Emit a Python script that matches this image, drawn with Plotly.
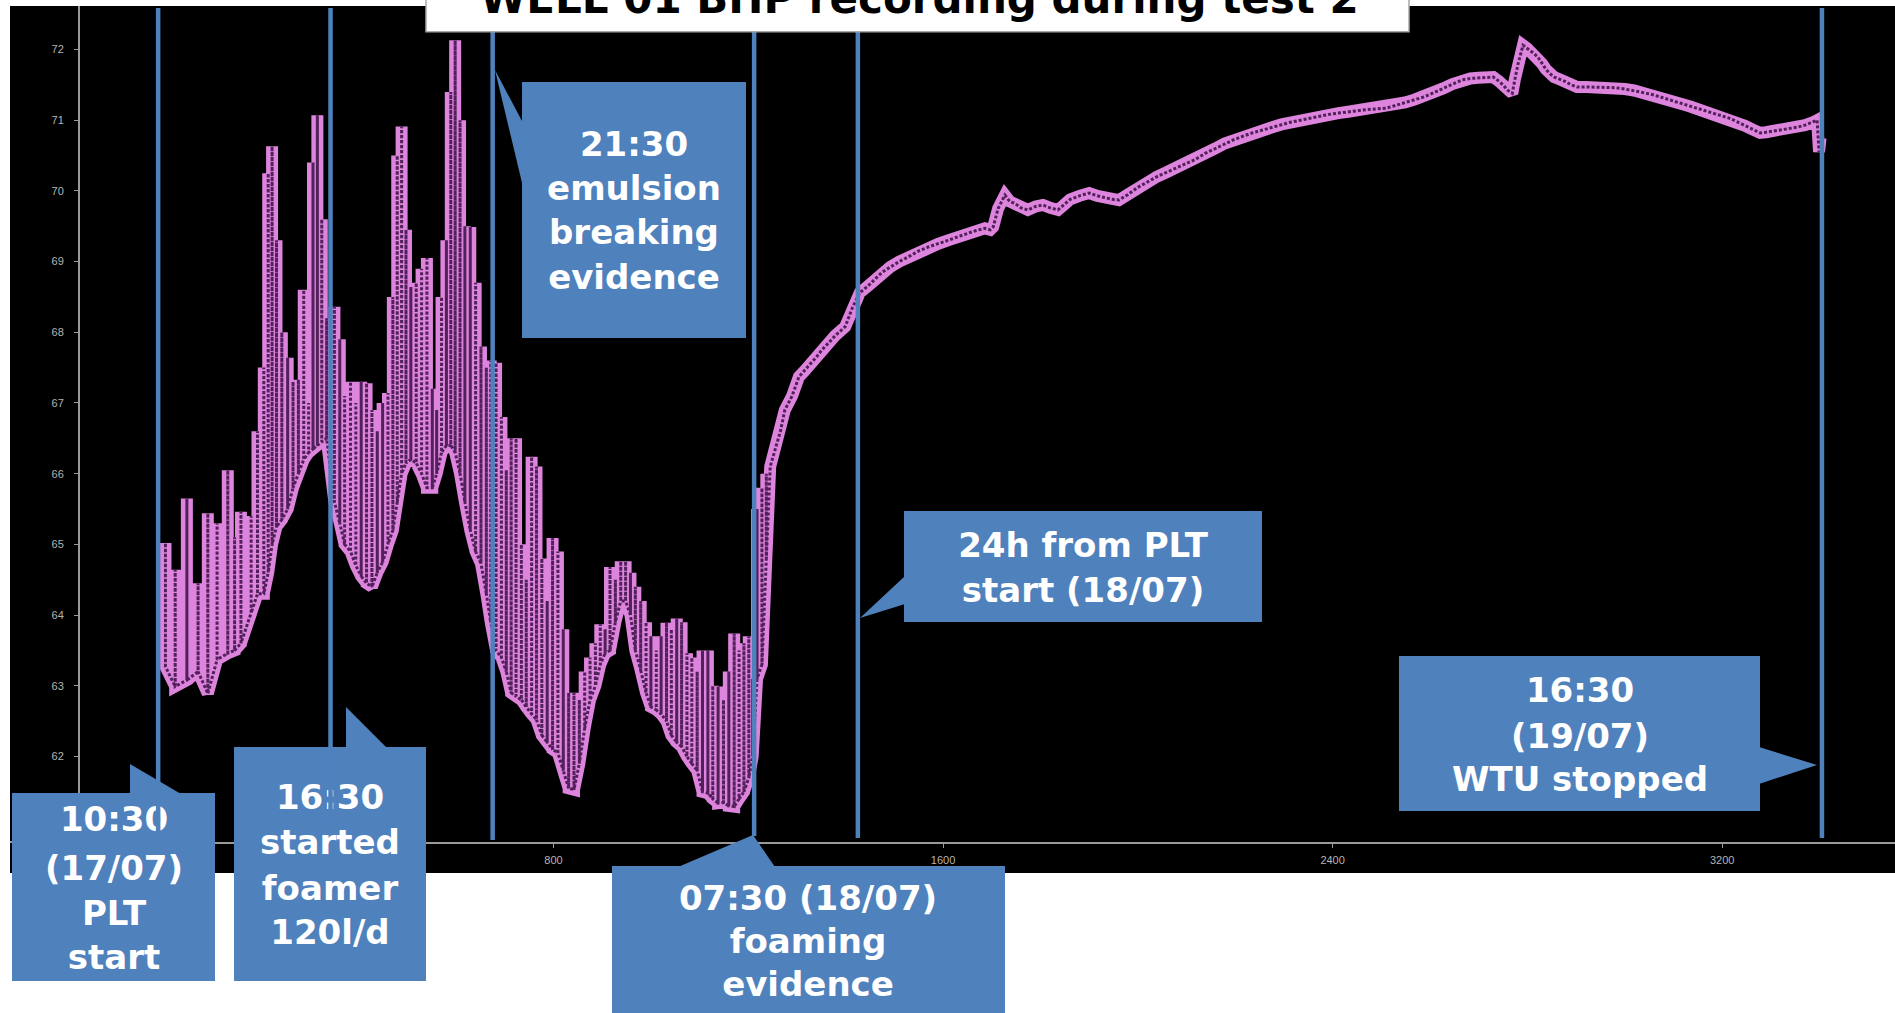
import plotly.graph_objects as go

# ---------------- data ----------------
# Oscillating part of the record: each column = time (min), column top and bottom (bar)
col_time = [3, 23, 47, 70, 90, 109, 131, 145, 158, 179, 192, 205, 214, 222, 231, 242, 254, 265, 276, 287,
            297, 306, 315, 324, 334, 350, 361, 371, 383, 394, 405, 416, 427, 438, 449, 460, 470, 479, 488, 497,
            507, 518, 529, 540, 551, 560, 570, 580, 589, 598, 608, 618, 629, 640, 651, 662, 671, 682, 693, 703,
            713, 723, 734, 744, 755, 765, 776, 787, 798, 809, 820, 831, 842, 853, 864, 875, 886, 896, 906, 916,
            927, 938, 948, 958, 968, 979, 990, 1000, 1011, 1021, 1032, 1042, 1053, 1063, 1074, 1084, 1095, 1106,
            1117, 1127, 1138, 1149, 1160, 1171, 1181, 1191, 1201, 1209, 1218, 1228, 1237]
col_top = [65.02, 64.64, 65.65, 64.45, 65.44, 65.3, 66.05, 65.1, 65.46, 65.4, 66.6, 67.5, 70.25, 70.63, 69.3,
           68.0, 67.64, 67.3, 67.33, 68.6, 67.0, 70.4, 71.07, 69.6, 68.2, 68.36, 67.9, 67.1, 67.3, 67.0, 67.3,
           67.28, 66.9, 66.6, 67.0, 67.14, 68.5, 70.5, 70.91, 69.45, 68.64, 68.7, 68.9, 69.05, 67.2, 66.9, 68.5,
           69.3, 71.4, 72.13, 71.0, 69.5, 69.49, 68.7, 67.8, 67.5, 67.6, 67.57, 66.8, 66.05, 66.5, 66.5, 65.0,
           64.5, 66.24, 66.1, 64.8, 64.2, 65.09, 64.9, 63.8, 62.9, 62.9, 62.8, 63.2, 63.4, 63.6, 63.87, 63.8,
           64.68, 64.5, 64.76, 64.76, 64.6, 64.4, 64.2, 63.9, 63.7, 63.5, 63.7, 63.89, 63.8, 63.95, 63.9, 63.46,
           63.4, 63.2, 63.5, 63.5, 63.0, 62.99, 62.8, 63.2, 63.74, 63.5, 63.6, 63.7, 63.1, 65.5, 65.8, 66.0]
col_bottom = [63.27, 62.99, 63.08, 63.2, 62.89, 63.37, 63.46, 63.5, 63.6, 64.03, 64.3, 64.3, 64.6, 65.0, 65.25,
              65.35, 65.5, 65.8, 66.0, 66.2, 66.3, 66.35, 66.4, 66.45, 66.5, 65.6, 65.3, 65.0, 64.9, 64.7, 64.55,
              64.45, 64.4, 64.6, 64.75, 65.0, 65.2, 65.6, 66.0, 66.15, 66.2, 66.15, 66.0, 65.8, 65.8, 66.0, 66.3,
              66.4, 66.4, 66.3, 66.0, 65.6, 65.2, 64.9, 64.73, 64.3, 63.9, 63.5, 63.4, 63.2, 62.9, 62.85, 62.8,
              62.7, 62.6, 62.52, 62.3, 62.2, 62.1, 62.05, 61.8, 61.55, 61.53, 61.9, 62.4, 62.8, 63.0, 63.3, 63.46,
              63.5, 63.9, 64.2, 64.2, 64.0, 63.5, 63.22, 62.9, 62.7, 62.66, 62.6, 62.5, 62.3, 62.2, 62.14, 62.0,
              61.9, 61.8, 61.5, 61.48, 61.4, 61.34, 61.35, 61.3, 61.29, 61.4, 61.5, 61.7, 62.0, 63.1, 63.3, 64.8]

# Smooth build-up part of the record
smooth_time = [1245, 1257, 1266, 1275, 1290, 1304, 1315, 1327, 1340, 1351,
               1365, 1378, 1399, 1414, 1429, 1445, 1460, 1475, 1491, 1510,
               1532, 1550, 1571, 1590, 1610, 1630, 1649, 1668, 1686, 1697,
               1703, 1713, 1727, 1737, 1748, 1760, 1774, 1790, 1805, 1820,
               1836, 1848, 1861, 1880, 1900, 1917, 1933, 1947, 1961, 1980,
               2000, 2020, 2039, 2058, 2078, 2097, 2117, 2138, 2159, 2178,
               2196, 2215, 2235, 2256, 2276, 2295, 2313, 2334, 2354, 2372,
               2391, 2412, 2432, 2452, 2471, 2490, 2510, 2530, 2549, 2568,
               2588, 2608, 2627, 2646, 2666, 2683, 2699, 2715, 2730, 2740,
               2750, 2760, 2769, 2775, 2781, 2791, 2799, 2806, 2814, 2822,
               2830, 2838, 2846, 2855, 2866, 2877, 2890, 2902, 2920, 2939,
               2960, 2980, 3000, 3019, 3038, 3058, 3077, 3097, 3117, 3136,
               3155, 3175, 3195, 3214, 3230, 3247, 3262, 3278, 3290, 3300,
               3312, 3323, 3338, 3354, 3370, 3387, 3395, 3399, 3402]
smooth_bhp = [66.1, 66.38, 66.6, 66.9, 67.1, 67.37, 67.45, 67.55, 67.65, 67.75,
              67.85, 67.95, 68.08, 68.35, 68.56, 68.65, 68.75, 68.85, 68.92, 69.0,
              69.08, 69.15, 69.21, 69.25, 69.3, 69.35, 69.40, 69.44, 69.47, 69.45,
              69.49, 69.75, 69.94, 69.85, 69.82, 69.76, 69.73, 69.78, 69.80, 69.76,
              69.73, 69.8, 69.88, 69.93, 69.97, 69.93, 69.9, 69.88, 69.87, 69.95,
              70.05, 70.13, 70.2, 70.26, 70.32, 70.38, 70.44, 70.53, 70.6, 70.67,
              70.72, 70.77, 70.82, 70.86, 70.90, 70.94, 70.97, 71.0, 71.03, 71.06,
              71.08, 71.1, 71.12, 71.14, 71.15, 71.16, 71.17, 71.21, 71.25, 71.29,
              71.33, 71.39, 71.45, 71.51, 71.57, 71.59, 71.6, 71.61, 71.61, 71.56,
              71.5, 71.42, 71.38, 71.6, 71.8, 72.06, 72.02, 71.98, 71.94, 71.89,
              71.8, 71.72, 71.66, 71.61, 71.58, 71.55, 71.5, 71.47, 71.47, 71.47,
              71.47, 71.46, 71.44, 71.42, 71.39, 71.36, 71.32, 71.28, 71.23, 71.19,
              71.15, 71.11, 71.07, 71.03, 70.98, 70.92, 70.87, 70.82, 70.83, 70.84,
              70.85, 70.86, 70.88, 70.9, 70.93, 70.97, 71.0, 70.55, 70.75]

# Event markers (same time units)
event_time = [-12, 342, 675, 1212, 1425, 3405]

x_tick_vals = [800, 1600, 2400, 3200]
y_tick_vals = [62, 63, 64, 65, 66, 67, 68, 69, 70, 71, 72]

title_text = "WELL 01 BHP recording during test 2"

# ---------------- build the record path ----------------
rec_t, rec_p = [], []
for t, top, bot in zip(col_time, col_top, col_bottom):
    rec_t += [t, t, t]
    rec_p += [bot, top, bot]
rec_t += smooth_time
rec_p += smooth_bhp

# ---------------- figure geometry (pixels) ----------------
W, H = 1895, 1013
PL, PR, PT, PB = 80, 1895, 6, 842


def px(x):
    return (x - PL) / (PR - PL)


def py(y):
    return (PB - y) / (PB - PT)


BLUE = "#4F81BD"
AXIS_GRAY = "#9a9a9a"
FONT = "DejaVu Sans"

fig = go.Figure()
fig.add_trace(go.Scatter(x=rec_t, y=rec_p, mode="lines",
                         line=dict(color="#dd84dd", width=12), hoverinfo="skip", showlegend=False))
fig.add_trace(go.Scatter(x=rec_t, y=rec_p, mode="lines",
                         line=dict(color="#52205a", width=3, dash="3px,2px"), hoverinfo="skip",
                         showlegend=False))

shapes = []
# black panel behind the chart
shapes.append(dict(type="rect", xref="paper", yref="paper", x0=px(10), x1=px(1900), y0=py(873), y1=py(6),
                   fillcolor="black", line=dict(width=0), layer="below"))
# x axis line extension to the left edge of the panel
shapes.append(dict(type="line", xref="paper", yref="paper", x0=px(10), x1=0, y0=py(PB), y1=py(PB),
                   line=dict(color=AXIS_GRAY, width=2), layer="below"))

boxes = [
    # (x0, x1, y0, y1), pointer triangle
    ((12, 215, 793, 981), [(130, 764), (130, 794), (181, 794)]),
    ((234, 426, 747, 981), [(346, 707), (346, 748), (387, 748)]),
    ((522, 746, 82, 338), [(495, 70), (523, 123), (523, 187)]),
    ((612, 1005, 866, 1030), [(753, 835), (678, 867), (775, 867)]),
    ((904, 1262, 511, 622), [(905, 576), (860, 618), (905, 604)]),
    ((1399, 1760, 656, 811), [(1759, 747), (1817, 765), (1759, 784)]),
]
for (x0, x1, y0, y1), tri in boxes:
    shapes.append(dict(type="rect", xref="paper", yref="paper", x0=px(x0), x1=px(x1), y0=py(y1), y1=py(y0),
                       fillcolor=BLUE, line=dict(width=0), layer="above"))
    path = "M " + " L ".join(f"{px(a):.5f},{py(b):.5f}" for a, b in tri) + " Z"
    shapes.append(dict(type="path", xref="paper", yref="paper", path=path,
                       fillcolor=BLUE, line=dict(width=0), layer="above"))

# box texts as shape labels, so the event lines drawn later pass over them (as in the original slide)
box_text = [
    (114, [("10:30", 817), ("(17/07)", 866), ("PLT", 911), ("start", 955)]),
    (330, [("16:30", 795), ("started", 840), ("foamer", 886), ("120l/d", 930)]),
    (634, [("21:30", 142), ("emulsion", 186), ("breaking", 230), ("evidence", 275)]),
    (808, [("07:30 (18/07)", 896), ("foaming", 939), ("evidence", 982)]),
    (1083, [("24h from PLT", 543), ("start (18/07)", 588)]),
    (1580, [("16:30", 688), ("(19/07)", 734), ("WTU stopped", 777)]),
]
for cx, lines in box_text:
    for txt, cy in lines:
        shapes.append(dict(type="rect", xref="paper", yref="paper",
                           x0=px(cx - 2), x1=px(cx + 2), y0=py(cy + 2), y1=py(cy - 2),
                           fillcolor="rgba(0,0,0,0)", line=dict(width=0), layer="above",
                           label=dict(text=f"<b>{txt}</b>", textposition="middle center",
                                      font=dict(family=FONT, size=34, color="white"))))

# event lines (bottom end in pixels for each line)
line_bottom_px = [838, 825, 840, 836, 838, 838]
for t, yb in zip(event_time, line_bottom_px):
    shapes.append(dict(type="line", xref="x", yref="paper", x0=t, x1=t, y0=py(yb), y1=py(8),
                       line=dict(color=BLUE, width=4.5), layer="above"))

# title box
shapes.append(dict(type="rect", xref="paper", yref="paper", x0=px(426), x1=px(1409), y0=py(31.7), y1=py(-20),
                   fillcolor="white", line=dict(color="#a8a8a8", width=1.5), layer="above"))

annotations = [dict(text=f"<b>{title_text}</b>", xref="paper", yref="paper", x=px(919), y=py(-1.5),
                    xanchor="center", yanchor="middle", showarrow=False,
                    font=dict(family=FONT, size=42, color="black"))]

axis_common = dict(showgrid=False, zeroline=False, showline=True, linecolor=AXIS_GRAY, linewidth=2,
                   ticks="outside", ticklen=4, tickwidth=1, tickcolor=AXIS_GRAY,
                   tickfont=dict(family="Liberation Sans", size=11, color="#b4b4b4"))

fig.update_layout(
    width=W, height=H,
    margin=dict(l=PL, r=W - PR, t=PT, b=H - PB, pad=0),
    paper_bgcolor="white", plot_bgcolor="black",
    xaxis=dict(range=[-172.5, 3555], tickvals=x_tick_vals, ticklabelstandoff=3, **axis_common),
    yaxis=dict(range=[60.79, 72.615], tickvals=y_tick_vals, ticklabelstandoff=8, **axis_common),
    shapes=shapes, annotations=annotations, showlegend=False,
)

fig.write_html("out.html", config={"displayModeBar": False},
               post_script="document.body.style.margin='0';document.body.style.overflow='hidden';")
